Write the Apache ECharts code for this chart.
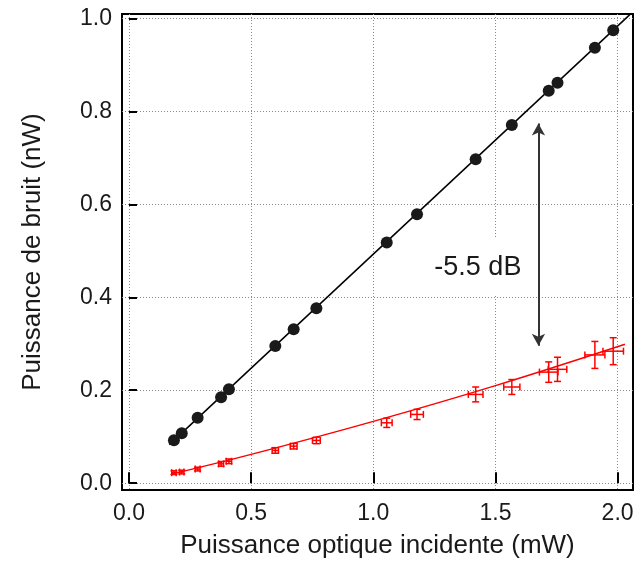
<!DOCTYPE html>
<html>
<head>
<meta charset="utf-8">
<script src="https://cdn.jsdelivr.net/npm/echarts@6/dist/echarts.min.js"></script>
<style>
  html, body { margin: 0; padding: 0; background: #fff; }
  #chart { width: 637px; height: 564px; }
</style>
</head>
<body>
<div id="chart"></div>
<script>
// ---- data ----
const incidentPower = [0.184, 0.216, 0.281, 0.377, 0.409, 0.599, 0.674, 0.767, 1.055, 1.179, 1.419, 1.567, 1.718, 1.754, 1.907, 1.982];
const noiseReference = [0.0926, 0.1076, 0.1406, 0.1848, 0.2019, 0.295, 0.3314, 0.3764, 0.5179, 0.5786, 0.6971, 0.7708, 0.8444, 0.8615, 0.9366, 0.9745];
const noiseSqueezed = [0.0227, 0.024, 0.0304, 0.0416, 0.0472, 0.0705, 0.0797, 0.092, 0.130, 0.148, 0.191, 0.207, 0.239, 0.245, 0.276, 0.284];
const powerError = [0.009, 0.009, 0.010, 0.010, 0.011, 0.013, 0.014, 0.016, 0.022, 0.026, 0.030, 0.033, 0.038, 0.038, 0.041, 0.042];
const noiseError = [0.004, 0.004, 0.004, 0.005, 0.005, 0.006, 0.006, 0.007, 0.010, 0.011, 0.016, 0.016, 0.022, 0.026, 0.029, 0.029];

const fitReferenceX = [0.165, 2.05];
const fitReferenceY = [0.083, 1.008];
const fitSqueezedX = [0.175, 0.5, 1.0, 1.5, 2.03];
const fitSqueezedY = [0.0197, 0.062, 0.133, 0.210, 0.299];

const xTicks = [0, 0.5, 1.0, 1.5, 2.0];
const yTicks = [0, 0.2, 0.4, 0.6, 0.8, 1.0];

const arrowX = 1.676;
const arrowYRange = [0.7736, 0.2956];
const annotationText = '-5.5 dB';
const annotationPos = [1.428, 0.465];

const xTitle = 'Puissance optique incidente (mW)';
const yTitle = 'Puissance de bruit (nW)';

// ---- build ----
const FONT = '"Liberation Sans", Arial, Helvetica, sans-serif';
const TXT = '#1a1a1a';
const zip = (a, b) => a.map((v, i) => [v, b[i]]);
const errData = incidentPower.map((x, i) => [x, noiseSqueezed[i], powerError[i], noiseError[i]]);

const chart = echarts.init(document.getElementById('chart'), null, { renderer: 'canvas' });

const gridLine = { show: true, lineStyle: { color: '#8a8a8a', width: 1, type: [1, 2] } };

chart.setOption({
  animation: false,
  backgroundColor: '#fff',
  grid: {
    left: 122, right: 4, top: 14, bottom: 72,
    show: true, borderColor: '#000', borderWidth: 2, backgroundColor: 'transparent'
  },
  xAxis: {
    type: 'value', min: -0.0286, max: 2.063,
    name: xTitle, nameLocation: 'middle', nameGap: 43,
    nameTextStyle: { fontFamily: FONT, fontSize: 26, color: TXT },
    axisLine: { show: false },
    axisTick: { show: true, inside: true, length: 11, customValues: xTicks, lineStyle: { color: '#000', width: 2 } },
    axisLabel: { customValues: xTicks, fontFamily: FONT, fontSize: 23, color: TXT, margin: 12,
      formatter: v => Number(v).toFixed(1) },
    splitLine: gridLine
  },
  yAxis: {
    type: 'value', min: -0.0146, max: 1.0094,
    name: yTitle, nameLocation: 'middle', nameGap: 76,
    nameTextStyle: { fontFamily: FONT, fontSize: 26, color: TXT },
    axisLine: { show: false },
    axisTick: { show: true, inside: true, length: 8, customValues: yTicks, lineStyle: { color: '#000', width: 2 } },
    axisLabel: { customValues: yTicks, fontFamily: FONT, fontSize: 23, color: TXT, margin: 10,
      formatter: v => Number(v).toFixed(1) },
    splitLine: gridLine
  },
  series: [
    {
      type: 'line', data: zip(fitReferenceX, fitReferenceY), symbol: 'none',
      lineStyle: { color: '#000', width: 1.5 }, clip: true, z: 2, silent: true
    },
    {
      type: 'line', data: zip(fitSqueezedX, fitSqueezedY), symbol: 'none', smooth: 0.4,
      lineStyle: { color: '#ff0000', width: 1.5 }, clip: true, z: 2, silent: true
    },
    {
      type: 'scatter', data: zip(incidentPower, noiseReference), symbol: 'circle', symbolSize: 12,
      itemStyle: { color: '#1a1a1a', opacity: 1 }, z: 3
    },
    {
      type: 'custom', data: errData, z: 3,
      renderItem: function (params, api) {
        const x = api.value(0), y = api.value(1), xe = api.value(2), ye = api.value(3);
        const l = api.coord([x - xe, y]), r = api.coord([x + xe, y]);
        const t = api.coord([x, y + ye]), b = api.coord([x, y - ye]);
        const c = 3.5;
        const st = { stroke: '#ff0000', lineWidth: 1.5, fill: null };
        const seg = (x1, y1, x2, y2) => ({ type: 'line', shape: { x1, y1, x2, y2 }, style: st });
        return {
          type: 'group',
          children: [
            seg(l[0], l[1], r[0], r[1]),
            seg(l[0], l[1] - c, l[0], l[1] + c),
            seg(r[0], r[1] - c, r[0], r[1] + c),
            seg(t[0], t[1], b[0], b[1]),
            seg(t[0] - c, t[1], t[0] + c, t[1]),
            seg(b[0] - c, b[1], b[0] + c, b[1])
          ]
        };
      }
    },
    {
      type: 'scatter', data: [annotationPos], symbolSize: 0, z: 4, silent: true,
      itemStyle: { opacity: 1 },
      label: {
        show: true, position: 'inside', formatter: annotationText,
        fontFamily: FONT, fontSize: 27, color: TXT, opacity: 1,
        backgroundColor: '#fff', padding: [15, 4]
      },
      markLine: {
        silent: true, symbol: ['arrow', 'arrow'], symbolSize: [10, 12],
        label: { show: false },
        lineStyle: { color: '#333', width: 2, type: 'solid', opacity: 1 },
        data: [[{ coord: [arrowX, arrowYRange[0]] }, { coord: [arrowX, arrowYRange[1]] }]]
      }
    }
  ]
});
</script>
</body>
</html>
